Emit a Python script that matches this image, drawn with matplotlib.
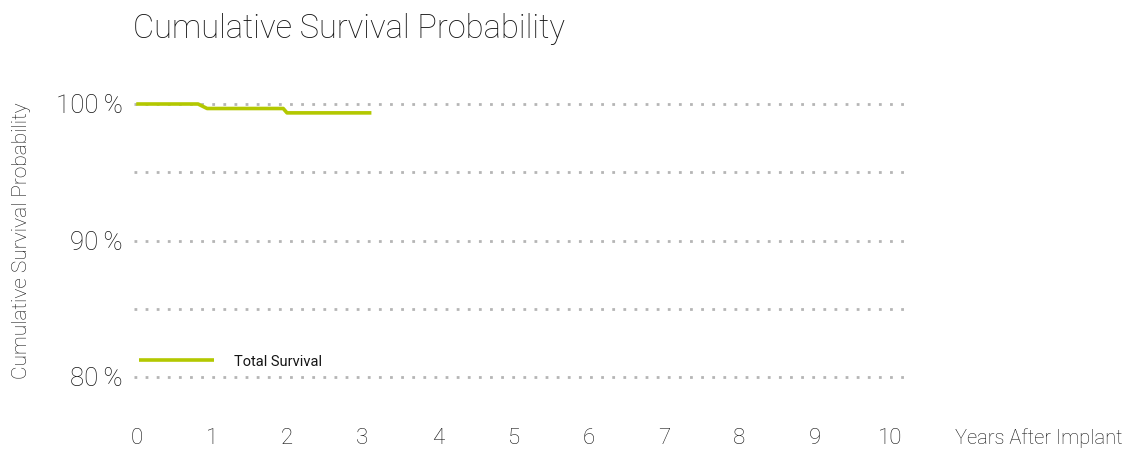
import matplotlib.pyplot as plt
import numpy as np

# survival curve (years, percent)
years = [0, 0.82, 0.94, 1.95, 2.0, 3.12]
survival = [100, 100, 99.67, 99.67, 99.35, 99.35]
series_name = 'Total Survival'

y_ticks = [80, 90, 100]
y_grid = [80, 85, 90, 95, 100]
x_ticks = list(range(0, 11))

green = '#b3c800'
grey = '#b5b5b5'
txt = '#151515'

plt.rcParams['font.family'] = ['Roboto', 'DejaVu Sans']

fig = plt.figure(figsize=(11.29, 4.51), dpi=100)
ax = fig.add_axes([134 / 1129, 1 - 390.65 / 451, 771 / 1129, 300.3 / 451])

for g in y_grid:
    ax.axhline(g, color=grey, lw=2, ls=(0, (1, 3)), zorder=1)

ax.plot(years, survival, color=green, lw=2.6, label=series_name, zorder=3,
        solid_capstyle='butt')

ax.set_xlim(-0.03, 10.2)
ax.set_ylim(79, 101)
ax.set_xticks(x_ticks)
ax.set_xticklabels([str(t) for t in x_ticks], fontsize=16, color=txt,
                   fontweight='light')
ax.set_yticks(y_ticks)
ax.set_yticklabels(['%d\u2009%%' % t for t in y_ticks], fontsize=18.5, color=txt,
                   fontweight='light')
ax.tick_params(axis='x', length=0, pad=27)
ax.tick_params(axis='y', length=0, pad=8)
for s in ax.spines.values():
    s.set_visible(False)

ax.set_ylabel('Cumulative Survival Probability', fontsize=15, color=txt,
              fontweight='light', labelpad=18)
fig.text(955 / 1129, 1 - 438 / 451, 'Years After Implant', fontsize=14.5,
         color=txt, va='center', ha='left', fontweight='light')
fig.text(133 / 1129, 1 - 29 / 451, 'Cumulative Survival Probability',
         fontsize=23.5, color=txt, va='center', ha='left', fontweight='light')

leg = ax.legend(loc='lower left', bbox_to_anchor=(-0.01, 0.03), frameon=False,
                handlelength=5.1, handletextpad=1.4, fontsize=10.5)
for t in leg.get_texts():
    t.set_color(txt)

fig.savefig('out.png', dpi=100)
